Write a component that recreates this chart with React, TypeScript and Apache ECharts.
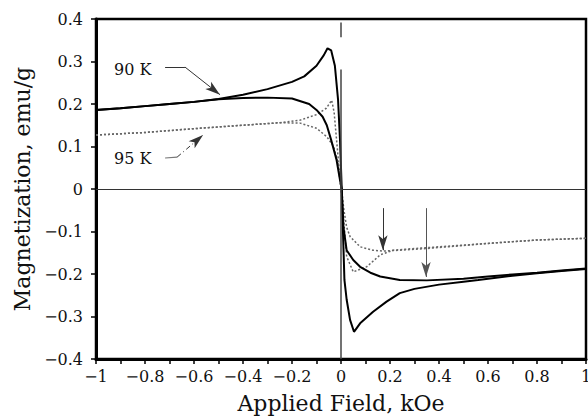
import React, { useEffect, useRef } from "react";
import * as echarts from "echarts";

// 90 K, branch peaking on the negative side
const x90a = [-1, -0.9, -0.8, -0.7, -0.6, -0.5, -0.4, -0.3, -0.2, -0.15, -0.1, -0.07, -0.055, -0.04, -0.025, -0.012, -0.004, 0.003, 0.01, 0.023, 0.05, 0.078, 0.12, 0.16, 0.24, 0.35, 0.5, 0.6, 0.7, 0.8, 0.9, 1.0];
const m90a = [0.186, 0.19, 0.195, 0.2, 0.205, 0.212, 0.222, 0.235, 0.252, 0.265, 0.29, 0.315, 0.331, 0.326, 0.29, 0.21, 0.115, 0.0, -0.09, -0.144, -0.167, -0.183, -0.197, -0.206, -0.214, -0.215, -0.211, -0.206, -0.201, -0.197, -0.192, -0.187];
// 90 K, branch with the minimum on the positive side
const x90b = [-1, -0.9, -0.8, -0.7, -0.6, -0.5, -0.4, -0.3, -0.2, -0.13, -0.1, -0.075, -0.058, -0.04, -0.018, -0.004, 0.003, 0.008, 0.014, 0.023, 0.037, 0.053, 0.078, 0.131, 0.186, 0.24, 0.3, 0.4, 0.5, 0.56, 0.7, 0.8, 0.9, 1];
const m90b = [0.186, 0.19, 0.195, 0.2, 0.205, 0.211, 0.214, 0.215, 0.213, 0.2, 0.186, 0.17, 0.15, 0.115, 0.068, 0.021, 0.0, -0.1, -0.214, -0.26, -0.308, -0.336, -0.316, -0.289, -0.265, -0.245, -0.235, -0.225, -0.218, -0.214, -0.204, -0.198, -0.193, -0.188];
// 95 K branches
const x95a = [-1, -0.8, -0.6, -0.4, -0.25, -0.167, -0.1, -0.06, -0.038, -0.028, -0.018, -0.008, 0.002, 0.012, 0.023, 0.037, 0.078, 0.13, 0.17, 0.24, 0.35, 0.5, 0.6, 0.8, 1];
const m95a = [0.127, 0.133, 0.142, 0.15, 0.156, 0.162, 0.175, 0.19, 0.209, 0.18, 0.115, 0.05, 0.0, -0.05, -0.09, -0.112, -0.136, -0.144, -0.146, -0.144, -0.14, -0.133, -0.128, -0.12, -0.116];
const x95b = [-1, -0.8, -0.6, -0.4, -0.25, -0.167, -0.1, -0.058, -0.03, -0.012, 0.0, 0.012, 0.023, 0.05, 0.105, 0.16, 0.213, 0.3, 0.4, 0.6, 0.8, 1];
const m95b = [0.127, 0.133, 0.142, 0.15, 0.156, 0.155, 0.143, 0.123, 0.1, 0.06, 0.0, -0.08, -0.159, -0.195, -0.183, -0.155, -0.144, -0.14, -0.136, -0.128, -0.12, -0.116];

const xTicks = { min: -1, max: 1, step: 0.2 };
const yTicks = { min: -0.4, max: 0.4, step: 0.1 };

// annotation anchor points (data coordinates)
const lead90 = [[-0.718, 0.287], [-0.637, 0.287], [-0.494, 0.222]];
const lead95 = [[-0.718, 0.073], [-0.669, 0.075], [-0.563, 0.127]];
const downArrows = [
  [[0.171, -0.045], [0.171, -0.144]],
  [[0.347, -0.045], [0.347, -0.207]],
];

const zip = (xs: number[], ys: number[]) => xs.map((x, i) => [x, ys[i]]);
const fmt = (v: number) => {
  const r = Math.round(v * 10) / 10;
  if (r === 0) return "0";
  return String(r).replace("-", "\u2212");
};

const FONT = "DejaVu Serif";

export default function App() {
  const ref = useRef<HTMLDivElement>(null);
  useEffect(() => {
    if (!ref.current) return;
    const chart = echarts.init(ref.current, undefined, { renderer: "svg" });
    const seg = (a: number[], b: number[], endArrow: boolean, lineStyle: any) => [
      { coord: a, symbol: "none", lineStyle },
      { coord: b, symbol: endArrow ? "arrow" : "none", symbolSize: [7, 15] },
    ];
    chart.setOption({
      animation: false,
      backgroundColor: "#fff",
      grid: { left: 96, right: 2, top: 19, bottom: 57, show: true, borderColor: "#000", borderWidth: 2.5, outerBoundsMode: "none" },
      xAxis: {
        type: "value",
        min: xTicks.min,
        max: xTicks.max,
        interval: xTicks.step,
        name: "Applied Field, kOe",
        nameLocation: "middle",
        nameGap: 33,
        nameTextStyle: { fontFamily: FONT, fontSize: 22, color: "#111" },
        axisLine: { show: true, onZero: false, lineStyle: { color: "#000", width: 3 } },
        axisTick: { show: true, inside: false, length: 5, lineStyle: { color: "#000", width: 1.5 } },
        minorTick: { show: true, splitNumber: 2, length: 5, lineStyle: { color: "#000", width: 1.5 } },
        axisLabel: { fontFamily: FONT, fontSize: 16, color: "#111", margin: 9, formatter: (v: number) => fmt(v) },
        splitLine: { show: false },
      },
      yAxis: {
        type: "value",
        min: yTicks.min,
        max: yTicks.max,
        interval: yTicks.step,
        name: "Magnetization, emu/g",
        nameLocation: "middle",
        nameGap: 62,
        nameTextStyle: { fontFamily: FONT, fontSize: 22, color: "#111" },
        axisLine: { show: true, onZero: false, lineStyle: { color: "#000", width: 3 } },
        axisTick: { show: true, inside: false, length: 5, lineStyle: { color: "#000", width: 1.5 } },
        axisLabel: { fontFamily: FONT, fontSize: 16, color: "#111", margin: 13, formatter: (v: number) => fmt(v) },
        splitLine: { show: false },
      },
      series: [
        {
          type: "line",
          data: zip(x95a, m95a),
          showSymbol: false,
          lineStyle: { color: "#666", width: 1.5, type: [2, 2] },
          z: 2,
        },
        {
          type: "line",
          data: zip(x95b, m95b),
          showSymbol: false,
          lineStyle: { color: "#666", width: 1.5, type: [2, 2] },
          z: 2,
        },
        {
          type: "line",
          data: zip(x90a, m90a),
          showSymbol: false,
          lineStyle: { color: "#000", width: 2 },
          z: 3,
        },
        {
          type: "line",
          data: zip(x90b, m90b),
          showSymbol: false,
          lineStyle: { color: "#000", width: 2 },
          z: 3,
          markLine: {
            silent: true,
            animation: false,
            label: { show: false },
            symbol: "none",
            lineStyle: { color: "#222", width: 1, type: "solid" },
            data: [
              [{ yAxis: 0, x: 96, lineStyle: { color: "#333", width: 1.2, type: "solid" } }, { yAxis: 0, x: 586 }],
              seg([0, 0.392], [0, 0.357], false, { color: "#444", width: 1.5, type: "solid" }),
              seg([0, 0.281], [0, -0.4], false, { color: "#444", width: 1.5, type: "solid" }),
              seg(lead90[0], lead90[1], false, { color: "#333", width: 1, type: "solid" }),
              seg(lead90[1], lead90[2], true, { color: "#333", width: 1, type: "solid" }),
              seg(lead95[0], lead95[1], false, { color: "#777", width: 1.2, type: "solid" }),
              seg(lead95[1], lead95[2], true, { color: "#333", width: 1, type: [5, 3, 1, 3] }),
              seg(downArrows[0][0], downArrows[0][1], true, { color: "#333", width: 1, type: "solid" }),
              seg(downArrows[1][0], downArrows[1][1], true, { color: "#555", width: 1, type: "solid" }),
            ],
          },
        },
      ],
      graphic: [
        { type: "text", left: 114, top: 61, style: { text: "90 K", fontFamily: FONT, fontSize: 16, fill: "#111" } },
        { type: "text", left: 114, top: 150, style: { text: "95 K", fontFamily: FONT, fontSize: 16, fill: "#111" } },
      ],
    });
    return () => chart.dispose();
  }, []);
  return <div ref={ref} style={{ position: "absolute", left: 0, top: 0, width: 588, height: 416 }} />;
}
